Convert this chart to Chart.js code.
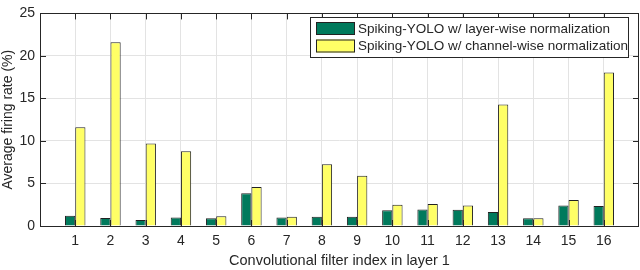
<!DOCTYPE html>
<html>
<head>
<meta charset="utf-8">
<script src="https://cdn.jsdelivr.net/npm/chart.js@4/dist/chart.umd.min.js"></script>
<style>
  html, body { margin: 0; padding: 0; background: #fff; }
  #wrap { width: 640px; height: 270px; }
</style>
</head>
<body>
<div id="wrap"><canvas id="chart" width="640" height="270"></canvas></div>
<script>
// --------------------- data ---------------------
const filterIndex = [1, 2, 3, 4, 5, 6, 7, 8, 9, 10, 11, 12, 13, 14, 15, 16];
const layerWise   = [1.2, 0.95, 0.7, 1.0, 0.9, 3.85, 1.0, 1.1, 1.1, 1.85, 1.95, 1.9, 1.65, 0.9, 2.4, 2.35];
const channelWise = [11.6, 21.6, 9.7, 8.8, 1.15, 4.6, 1.1, 7.25, 5.9, 2.5, 2.6, 2.4, 14.3, 0.9, 3.05, 18.05];
const yTicks = [0, 5, 10, 15, 20, 25];

const labelLayer = "Spiking-YOLO w/ layer-wise normalization";
const labelChannel = "Spiking-YOLO w/ channel-wise normalization";

const green = "#007a5c";
const yellow = "#ffff66";
const axisColor = "#262626";
const FONT = "'Liberation Sans', Arial, sans-serif";

// inward matlab-style ticks on all four sides
const boxTicks = {
  id: "boxTicks",
  afterDatasetsDraw(chart) {
    const { ctx, chartArea: a, scales } = chart;
    ctx.save();
    ctx.strokeStyle = axisColor;
    ctx.lineWidth = 1;
    ctx.beginPath();
    filterIndex.forEach((v) => {
      const x = Math.round(scales.x.getPixelForValue(v)) + 0.5;
      ctx.moveTo(x, a.bottom); ctx.lineTo(x, a.bottom - 6);
      ctx.moveTo(x, a.top); ctx.lineTo(x, a.top + 6);
    });
    yTicks.forEach((v) => {
      const y = Math.round(scales.y.getPixelForValue(v)) + 0.5;
      ctx.moveTo(a.left, y); ctx.lineTo(a.left + 6, y);
      ctx.moveTo(a.right, y); ctx.lineTo(a.right - 6, y);
    });
    ctx.stroke();
    // box
    ctx.strokeRect(Math.round(a.left) + 0.5, Math.round(a.top) + 0.5,
      Math.round(a.right - a.left) - 1, Math.round(a.bottom - a.top));
    ctx.restore();
  }
};

// legend box inside the plot, top right
const insideLegend = {
  id: "insideLegend",
  afterDraw(chart) {
    const { ctx } = chart;
    const x0 = 310, y0 = 17, w = 318, h = 40;
    ctx.save();
    ctx.fillStyle = "#fff";
    ctx.fillRect(x0, y0, w, h);
    ctx.strokeStyle = axisColor;
    ctx.lineWidth = 1;
    ctx.strokeRect(x0 + 0.5, y0 + 0.5, w, h);
    ctx.font = "13.5px " + FONT;
    ctx.textBaseline = "middle";
    chart.data.datasets.forEach((ds, i) => {
      const ry = y0 + 5 + i * 17.5;
      ctx.fillStyle = ds.backgroundColor;
      ctx.fillRect(x0 + 6, ry, 39, 13);
      ctx.strokeStyle = "#222";
      ctx.strokeRect(x0 + 6.5, ry + 0.5, 38, 12);
      ctx.fillStyle = axisColor;
      ctx.fillText(ds.label, x0 + 48, ry + 7);
    });
    ctx.restore();
  }
};

new Chart(document.getElementById("chart"), {
  type: "bar",
  data: {
    datasets: [
      {
        label: labelLayer,
        data: filterIndex.map((f, i) => ({ x: f, y: layerWise[i] })),
        backgroundColor: green,
        borderColor: "#222",
        borderWidth: 1,
        categoryPercentage: 0.58,
        barPercentage: 1.0,
      },
      {
        label: labelChannel,
        data: filterIndex.map((f, i) => ({ x: f, y: channelWise[i] })),
        backgroundColor: yellow,
        borderColor: "#222",
        borderWidth: 1,
        categoryPercentage: 0.58,
        barPercentage: 1.0,
      },
    ],
  },
  options: {
    responsive: false,
    animation: false,
    layout: { padding: { top: 4, right: 1, left: 0, bottom: 0 } },
    plugins: { legend: { display: false }, tooltip: { enabled: false } },
    scales: {
      x: {
        type: "linear",
        offset: false,
        min: 0,
        max: 17,
        afterFit: (s) => { s.height = 44; },
        afterBuildTicks: (s) => { s.ticks = filterIndex.map((v) => ({ value: v })); },
        border: { display: false },
        grid: { color: "#e3e3e3", drawTicks: false, offset: false },
        ticks: { color: axisColor, padding: 7, font: { family: FONT, size: 14 } },
        title: {
          display: true,
          text: "Convolutional filter index in layer 1",
          color: axisColor,
          font: { family: FONT, size: 14.5 },
          padding: { top: 0, bottom: 0 },
        },
      },
      y: {
        min: 0,
        max: 25,
        afterFit: (s) => { s.width = 40; },
        afterBuildTicks: (s) => { s.ticks = yTicks.map((v) => ({ value: v })); },
        border: { display: false },
        grid: { color: (c) => (c.tick && (c.tick.value === 0 || c.tick.value === 25) ? "rgba(0,0,0,0)" : "#e3e3e3"), drawTicks: false },
        ticks: { color: axisColor, padding: 5, font: { family: FONT, size: 14 } },
        title: {
          display: true,
          text: "Average firing rate (%)",
          color: axisColor,
          font: { family: FONT, size: 14 },
          padding: { top: 0, bottom: 0 },
        },
      },
    },
  },
  plugins: [boxTicks, insideLegend],
});
</script>
</body>
</html>
